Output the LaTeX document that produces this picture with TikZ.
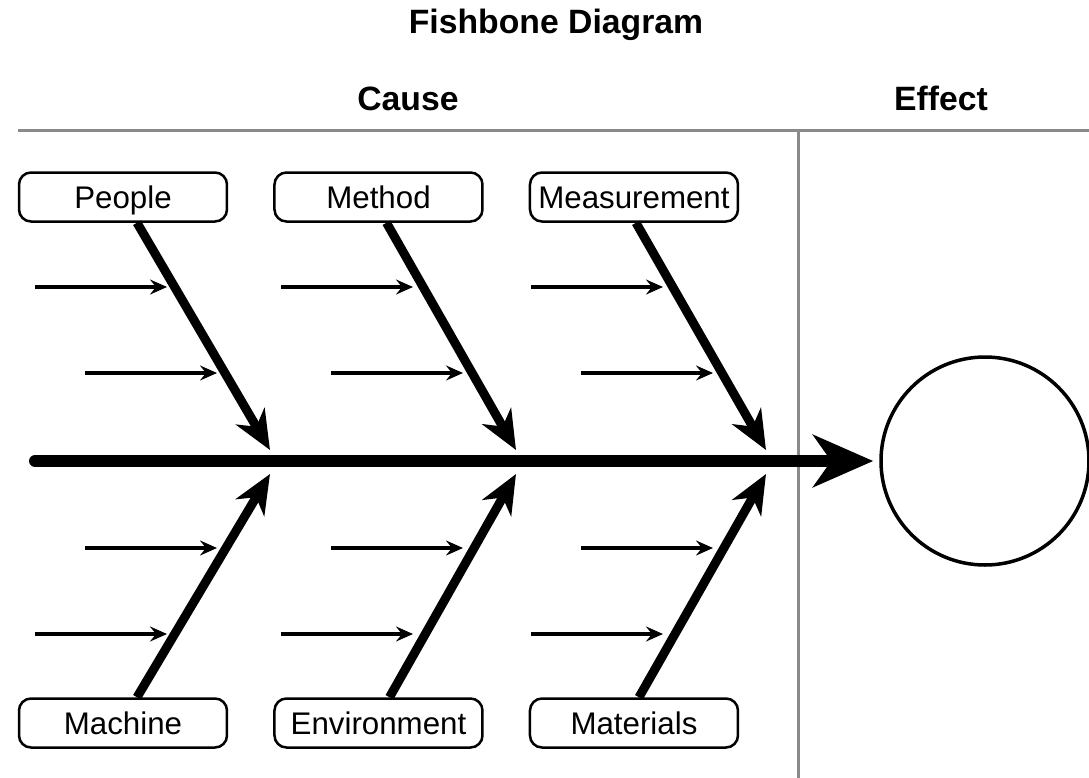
\documentclass[tikz,border=0pt]{standalone}
\usepackage{fontspec}
\setmainfont{Liberation Sans}
\usetikzlibrary{arrows.meta,positioning}
\definecolor{rulegray}{RGB}{138,138,138}
\tikzset{
causebox/.style={
    draw, rounded corners=1.2mm, line width=0.25mm,
    minimum width=20.8mm, minimum height=4.9mm, inner sep=0pt,
    text height=2.25mm, text depth=0mm,
    font=\fontsize{8.9}{10}\selectfont
},
heading/.style={
    anchor=base, inner sep=0pt,
    font=\fontsize{9.6}{11}\selectfont\bfseries
},
bone/.style={
    line width=0.9mm,
    -{Stealth[length=3.9mm,width=3.3mm,inset=1.2mm]}
},
twig/.style={
    line width=0.4mm,
    -{Stealth[length=1.7mm,width=1.5mm,inset=0.6mm]}
},
spine/.style={
    line width=1.2mm, line cap=round,
    -{Stealth[length=6mm,width=5.2mm,inset=1.8mm]}
},
divider/.style={draw=rulegray, line width=0.3mm}
}

\begin{document}
\begin{tikzpicture}[x=0.1mm,y=-0.1mm, node distance=4.5mm]
\useasboundingbox (0,0) rectangle (1089,778);
% headings
\node[heading] (title) at (556,33) {Fishbone Diagram};
\node[heading] (cause) at (408,110) {Cause};
\node[heading] (effectlbl) at (941,110) {Effect};
\draw[divider] (18,130) -- (1089,130);
\draw[divider] (798,130) -- (798,778);

% cause boxes
\node[causebox] at (123,197) (people) {People};
\node[causebox, right=of people] (method) {Method};
\node[causebox, right=of method] (measurement) {Measurement};
\node[causebox] at (123,723) (machine) {Machine};
\node[causebox, right=of machine] (environment) {Environment};
\node[causebox, right=of environment] (materials) {Materials};

% head and spine
\node[draw, circle, line width=0.35mm, minimum size=20.8mm, inner sep=0pt] at (985,461) (effect) {};
\coordinate (tail) at (35,461);
\coordinate (j1) at (270,461);
\coordinate (j2) at (516,461);
\coordinate (j3) at (766,461);
\draw[spine, shorten >=0.6mm] (tail) -- (effect.west);

% bones
\foreach \b/\j/\s in {people/j1/1.4, method/j2/0.8, measurement/j3/0.2}
    \draw[bone] ([xshift=\s mm]\b.south) -- ([yshift=1.1mm]\j);
\foreach \b/\j/\s in {machine/j1/1.4, environment/j2/1.1, materials/j3/0.5}
    \draw[bone] ([xshift=\s mm]\b.north) -- ([yshift=-1.3mm]\j);

% small causes
\foreach \dx in {0,246,496}{
    \draw[twig] ({35+\dx},287) -- ++(132,0);
    \draw[twig] ({85+\dx},373) -- ++(132,0);
    \draw[twig] ({85+\dx},548) -- ++(132,0);
    \draw[twig] ({35+\dx},634) -- ++(132,0);
}
\end{tikzpicture}
\end{document}
